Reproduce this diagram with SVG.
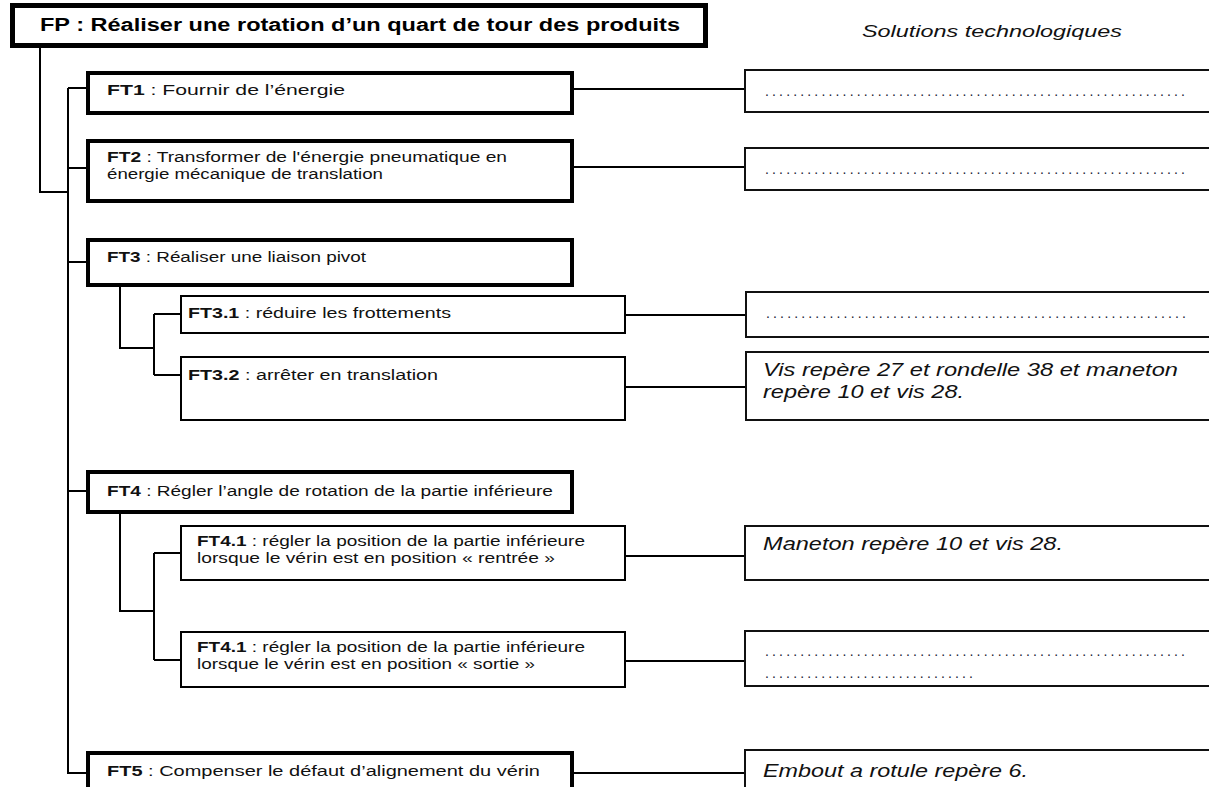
<svg xmlns="http://www.w3.org/2000/svg" width="1209" height="787" viewBox="0 0 1209 787">
  <style>
    .bg { fill: #ffffff; }
    .fp { fill: #ffffff; stroke: #000000; stroke-width: 5; }
    .ft { fill: #ffffff; stroke: #000000; stroke-width: 4; }
    .sub { fill: #ffffff; stroke: #000000; stroke-width: 2; }
    .sol { fill: #ffffff; stroke: #111111; stroke-width: 2; }
    .wire { fill: none; stroke: #000000; stroke-width: 2; }
    .title { font-family: "Liberation Sans", Arial, sans-serif; font-size: 18px; font-weight: bold; fill: #000; }
    .head { font-family: "Liberation Sans", Arial, sans-serif; font-size: 16px; font-style: italic; fill: #111; }
    .lbl { font-family: "Liberation Sans", Arial, sans-serif; font-size: 14px; fill: #111; }
    .lbl .b { font-weight: bold; }
    .ans { font-family: "Liberation Sans", Arial, sans-serif; font-size: 18px; font-style: italic; fill: #111; }
    .dots { font-family: "Liberation Sans", Arial, sans-serif; font-size: 14px; fill: #223; }
  </style>

  <rect class="bg" x="0" y="0" width="1209" height="787"/>

  <!-- tree wiring -->
  <g id="connectors">
    <path class="wire" d="M40 46 V192 H68"/>
    <path class="wire" d="M68 88 V773 H88"/>
    <path class="wire" d="M68 88 H88 M68 168 H88 M68 262 H88 M68 491 H88"/>
    <path class="wire" d="M120 285 V348 H154 M154 314 V375 M154 314 H181 M154 375 H181"/>
    <path class="wire" d="M120 512 V611 H154 M154 553 V660 M154 553 H181 M154 660 H181"/>
    <path class="wire" d="M572 89 H745 M572 167 H745 M625 315 H746 M625 387 H746 M625 556 H745 M625 661 H745 M572 773 H745"/>
  </g>

  <g id="fp">
    <rect class="fp" x="12.5" y="5.5" width="693" height="40"/>
    <text class="title" x="40" y="31" textLength="640" lengthAdjust="spacingAndGlyphs">FP : Réaliser une rotation d’un quart de tour des produits</text>
  </g>

  <g id="heading">
    <text class="head" x="862" y="37" textLength="260" lengthAdjust="spacingAndGlyphs">Solutions technologiques</text>
  </g>

  <g id="ft1">
    <rect class="ft" x="88" y="73" width="484" height="40"/>
    <text class="lbl" x="107" y="95" textLength="238" lengthAdjust="spacingAndGlyphs"><tspan class="b">FT1</tspan> : Fournir de l’énergie</text>
  </g>
  <g id="sol1">
    <rect class="sol" x="745" y="70" width="480" height="42"/>
    <text class="dots" x="765" y="96" textLength="420" lengthAdjust="spacing">............................................................</text>
  </g>

  <g id="ft2">
    <rect class="ft" x="88" y="141" width="484" height="60"/>
    <text class="lbl" x="107" y="162" textLength="400" lengthAdjust="spacingAndGlyphs"><tspan class="b">FT2</tspan> : Transformer de l'énergie pneumatique en</text>
    <text class="lbl" x="107" y="179" textLength="276" lengthAdjust="spacingAndGlyphs">énergie mécanique de translation</text>
  </g>
  <g id="sol2">
    <rect class="sol" x="745" y="148" width="480" height="42"/>
    <text class="dots" x="765" y="174" textLength="420" lengthAdjust="spacing">............................................................</text>
  </g>

  <g id="ft3">
    <rect class="ft" x="88" y="240" width="484" height="45"/>
    <text class="lbl" x="107" y="262" textLength="259" lengthAdjust="spacingAndGlyphs"><tspan class="b">FT3</tspan> : Réaliser une liaison pivot</text>
  </g>

  <g id="ft3-1">
    <rect class="sub" x="181" y="296" width="444" height="37"/>
    <text class="lbl" x="188" y="318" textLength="263" lengthAdjust="spacingAndGlyphs"><tspan class="b">FT3.1</tspan> : réduire les frottements</text>
  </g>
  <g id="sol3-1">
    <rect class="sol" x="746" y="292" width="480" height="45"/>
    <text class="dots" x="766" y="318" textLength="420" lengthAdjust="spacing">............................................................</text>
  </g>

  <g id="ft3-2">
    <rect class="sub" x="181" y="357" width="444" height="63"/>
    <text class="lbl" x="188" y="380" textLength="250" lengthAdjust="spacingAndGlyphs"><tspan class="b">FT3.2</tspan> : arrêter en translation</text>
  </g>
  <g id="sol3-2">
    <rect class="sol" x="746" y="352" width="480" height="68"/>
    <text class="ans" x="763" y="376" textLength="415" lengthAdjust="spacingAndGlyphs">Vis repère 27 et rondelle 38 et maneton</text>
    <text class="ans" x="763" y="398" textLength="201" lengthAdjust="spacingAndGlyphs">repère 10 et vis 28.</text>
  </g>

  <g id="ft4">
    <rect class="ft" x="88" y="472" width="484" height="40"/>
    <text class="lbl" x="107" y="496" textLength="446" lengthAdjust="spacingAndGlyphs"><tspan class="b">FT4</tspan> : Régler l’angle de rotation de la partie inférieure</text>
  </g>

  <g id="ft4-1a">
    <rect class="sub" x="181" y="526" width="444" height="54"/>
    <text class="lbl" x="197" y="546" textLength="388" lengthAdjust="spacingAndGlyphs"><tspan class="b">FT4.1</tspan> : régler la position de la partie inférieure</text>
    <text class="lbl" x="197" y="563" textLength="358" lengthAdjust="spacingAndGlyphs">lorsque le vérin est en position « rentrée »</text>
  </g>
  <g id="sol4-1a">
    <rect class="sol" x="745" y="526" width="480" height="54"/>
    <text class="ans" x="763" y="550" textLength="300" lengthAdjust="spacingAndGlyphs">Maneton repère 10 et vis 28.</text>
  </g>

  <g id="ft4-1b">
    <rect class="sub" x="181" y="632" width="444" height="55"/>
    <text class="lbl" x="197" y="652" textLength="388" lengthAdjust="spacingAndGlyphs"><tspan class="b">FT4.1</tspan> : régler la position de la partie inférieure</text>
    <text class="lbl" x="197" y="669" textLength="338" lengthAdjust="spacingAndGlyphs">lorsque le vérin est en position « sortie »</text>
  </g>
  <g id="sol4-1b">
    <rect class="sol" x="745" y="631" width="480" height="55"/>
    <text class="dots" x="765" y="656" textLength="420" lengthAdjust="spacing">............................................................</text>
    <text class="dots" x="765" y="678" textLength="208" lengthAdjust="spacing">..............................</text>
  </g>

  <g id="ft5">
    <rect class="ft" x="88" y="753" width="484" height="60"/>
    <text class="lbl" x="107" y="776" textLength="433" lengthAdjust="spacingAndGlyphs"><tspan class="b">FT5</tspan> : Compenser le défaut d’alignement du vérin</text>
  </g>
  <g id="sol5">
    <rect class="sol" x="745" y="750" width="480" height="60"/>
    <text class="ans" x="763" y="777" textLength="265" lengthAdjust="spacingAndGlyphs">Embout a rotule repère 6.</text>
  </g>
</svg>
